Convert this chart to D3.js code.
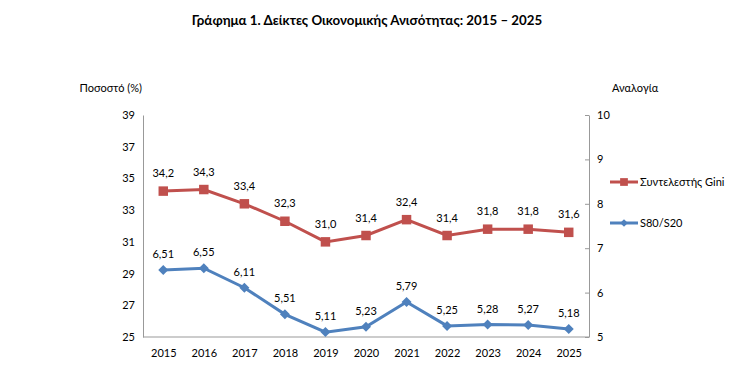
<!DOCTYPE html>
<html><head><meta charset="utf-8">
<script src="https://cdn.jsdelivr.net/npm/d3@7"></script>
<style>body{margin:0;background:#fff}text{font-family:Lato,"Open Sans",sans-serif;fill:#000}</style>
</head><body><svg id="c" width="746" height="388"></svg>
<script>
const years = ["2015","2016","2017","2018","2019","2020","2021","2022","2023","2024","2025"];
const gini = [34.2,34.3,33.4,32.3,31.0,31.4,32.4,31.4,31.8,31.8,31.6];
const s80s20 = [6.51,6.55,6.11,5.51,5.11,5.23,5.79,5.25,5.28,5.27,5.18];
const leftTicks = [25,27,29,31,33,35,37,39];
const rightTicks = [5,6,7,8,9,10];
const seriesNames = ["Συντελεστής Gini","S80/S20"];
const title = "Γράφημα 1. Δείκτες Οικονομικής Ανισότητας: 2015 – 2025";

const svg = d3.select("#c");
const L=143,R=589,T=115,B=337;
const red="#C0504D", blue="#4F81BD";
const x = d3.scalePoint().domain(years).range([L,R]).padding(0.5);
const yl = d3.scaleLinear().domain([25,39]).range([B,T]);
const yr = d3.scaleLinear().domain([5,10]).range([B,T]);

svg.append("text").attr("x",367).attr("y",25).attr("text-anchor","middle")
  .style("font-weight","bold").style("font-size","13.3px").text(title);
svg.append("text").attr("x",142).attr("y",92).attr("text-anchor","end").style("font-size","11px").text("Ποσοστό (%)");
svg.append("text").attr("x",612).attr("y",92).style("font-size","11px").text("Αναλογία");

const ax = svg.append("g").attr("transform",`translate(${L},0)`)
  .call(d3.axisLeft(yl).tickValues(leftTicks).tickFormat(d3.format("d")).tickSize(0).tickPadding(8));
const ar = svg.append("g").attr("transform",`translate(${R},0)`)
  .call(d3.axisRight(yr).tickValues(rightTicks).tickFormat(d3.format("d")).tickSize(0).tickPadding(8));
ar.selectAll(".tick").append("line").attr("x1",-4).attr("x2",0).attr("stroke","#999");
const ab = svg.append("g").attr("transform",`translate(0,${B})`)
  .call(d3.axisBottom(x).tickSize(0).tickPadding(12));
ab.select(".domain").attr("d",`M${L},0H${R}`);
[ax,ar,ab].forEach(g=>{
  g.select(".domain").attr("stroke","#999");
  g.selectAll("text").style("font-size","11px").style("font-family","Lato,'Open Sans',sans-serif").attr("fill","#000");
});

function marker(shape, s){
  return d3.symbol().type(d3.symbolSquare).size(s)();
}
function series(vals, y, color, shape, fmt, dy){
  const line = d3.line().x((d,i)=>x(years[i])).y(d=>y(d));
  svg.append("path").datum(vals).attr("d",line).attr("fill","none").attr("stroke",color).attr("stroke-width",3);
  const rot = shape==="diamond" ? " rotate(45)" : "";
  svg.selectAll(null).data(vals).enter().append("path")
    .attr("d",marker(shape, shape==="diamond"?50:90))
    .attr("transform",(d,i)=>`translate(${x(years[i])},${y(d)})${rot}`).attr("fill",color);
  svg.selectAll(null).data(vals).enter().append("text")
    .attr("x",(d,i)=>x(years[i])).attr("y",d=>y(d)-dy).attr("text-anchor","middle")
    .style("font-size","11px").text(d=>fmt(d));
}
series(gini, yl, red, "square", d=>d.toFixed(1).replace(".",","), 14);
series(s80s20, yr, blue, "diamond", d=>d.toFixed(2).replace(".",","), 12);

const leg = [[seriesNames[0],red,"square",182],[seriesNames[1],blue,"diamond",223]];
leg.forEach(([n,c,s,yy])=>{
  svg.append("line").attr("x1",610).attr("x2",638).attr("y1",yy).attr("y2",yy).attr("stroke",c).attr("stroke-width",3);
  svg.append("path").attr("d",marker(s, s==="diamond"?30:60))
    .attr("transform",`translate(624,${yy})${s==="diamond"?" rotate(45)":""}`).attr("fill",c);
  svg.append("text").attr("x",640).attr("y",yy+4).style("font-size","11px").text(n);
});
</script></body></html>
